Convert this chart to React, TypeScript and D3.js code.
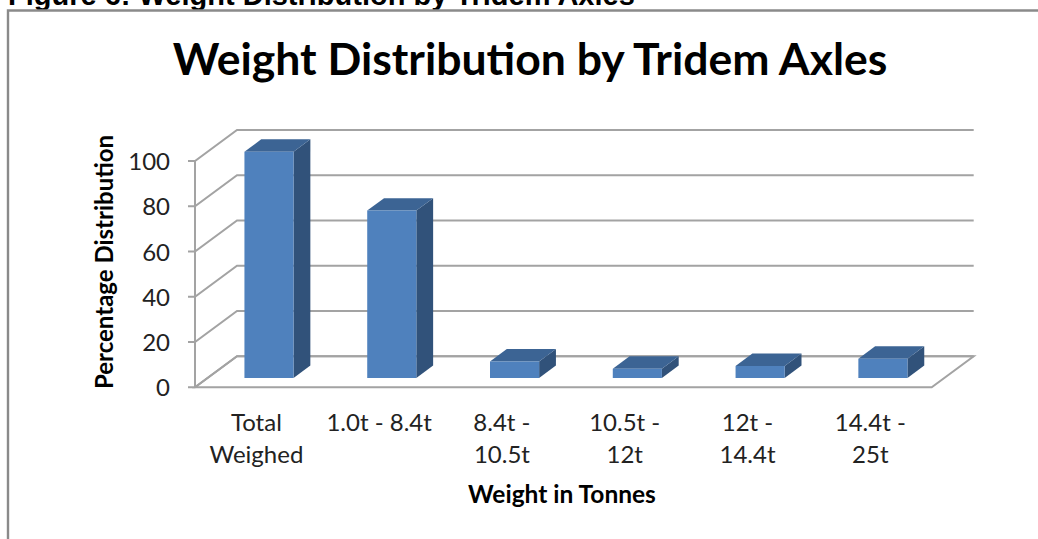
import React from 'react';
import { scaleBand, scaleLinear, line } from 'd3';

const categories = ['Total Weighed', '1.0t - 8.4t', '8.4t - 10.5t', '10.5t - 12t', '12t - 14.4t', '14.4t - 25t'];
const categoryLines = [['Total', 'Weighed'], ['1.0t - 8.4t'], ['8.4t -', '10.5t'], ['10.5t -', '12t'], ['12t -', '14.4t'], ['14.4t -', '25t']];
const values = [100, 74, 7.3, 4.1, 5.3, 8.5];
const yTicks = [0, 20, 40, 60, 80, 100];

const width = 1038;
const height = 539;
const depthX = 42;
const depthY = 31;
const barNear = 0.3;
const barFar = 0.7;
const font = 'Lato, sans-serif';

const App = () => {
    const yScale = scaleLinear().domain([0, 100]).range([387.3, 161]);

    const xBand = scaleBand()
        .domain(categories)
        .range([195, 931.7]);

    const barBand = scaleBand()
        .domain(categories)
        .range([195, 931.7])
        .paddingInner(0.6)
        .paddingOuter(0.3);

    // oblique projection: z = 0 front of the floor, z = 1 back wall
    const project = (x: number, v: number, z: number): [number, number] => [x + depthX * z, yScale(v) - depthY * z];
    const path = line();
    const poly = (pts: [number, number][]) => path(pts) + 'Z';

    const x0 = xBand.range()[0];
    const x1 = xBand.range()[1];

    const grid = yTicks.map(t => (
        <path
            key={t}
            d={path([project(x0 - 7, t, 0), project(x0, t, 0), project(x0, t, 1), project(x1, t, 1)]) as string}
            fill="none"
            stroke="#a3a3a3"
            strokeWidth="2"
        />
    ));

    const bars = categories.map((c, i) => {
        const left = barBand(c) as number;
        const right = left + barBand.bandwidth();
        const v = values[i];
        return (
            <g key={c}>
                <path
                    d={poly([project(right, 0, barNear), project(right, 0, barFar), project(right, v, barFar), project(right, v, barNear)])}
                    fill="#31527a"
                />
                <path
                    d={poly([project(left, v, barNear), project(right, v, barNear), project(right, v, barFar), project(left, v, barFar)])}
                    fill="#3c6494"
                />
                <path
                    d={poly([project(left, 0, barNear), project(right, 0, barNear), project(right, v, barNear), project(left, v, barNear)])}
                    fill="#4f81bd"
                />
            </g>
        );
    });

    const yLabels = yTicks.map(t => (
        <text key={t} x="170" y={yScale(t) + 9} textAnchor="end" fontSize="24" fill="#222">{t}</text>
    ));

    const xLabels = categories.map((c, i) => (
        <text key={c} textAnchor="middle" fontSize="24" fill="#222">
            {categoryLines[i].map((l, j) => (
                <tspan key={l} x={(xBand(c) as number) + xBand.bandwidth() / 2} y={431 + j * 32}>{l}</tspan>
            ))}
        </text>
    ));

    return <svg
        width={width}
        height={height}
        viewBox={`0 0 ${width} ${height}`}
        style={{ position: 'absolute', left: 0, top: 0, background: '#fff' }}
        fontFamily={font}
    >
        <text x="8" y="5" fontFamily="'Liberation Sans', Arial, sans-serif" fontWeight="bold" fontSize="29" fill="#000">Figure 6: Weight Distribution by Tridem Axles</text>
        <path d={`M8 ${height}V10.5H${width}`} fill="none" stroke="#8a8a8a" strokeWidth="2.4" />
        <text x="530" y="75" textAnchor="middle" fontWeight="bold" fontSize="44.5" fill="#000">Weight Distribution by Tridem Axles</text>
        {grid}
        <path d={path([project(x0, 0, 0), project(x0, 100, 0)]) as string} stroke="#a3a3a3" strokeWidth="2" fill="none" />
        <path d={poly([project(x0, 0, 0), project(x1, 0, 0), project(x1, 0, 1), project(x0, 0, 1)])} fill="none" stroke="#a3a3a3" strokeWidth="2" />
        {bars}
        {yLabels}
        {xLabels}
        <text transform="translate(113,262) rotate(-90)" textAnchor="middle" fontWeight="bold" fontSize="24" fill="#000">Percentage Distribution</text>
        <text x="562" y="503" textAnchor="middle" fontWeight="bold" fontSize="24.5" fill="#000">Weight in Tonnes</text>
    </svg>
}

export default App;
